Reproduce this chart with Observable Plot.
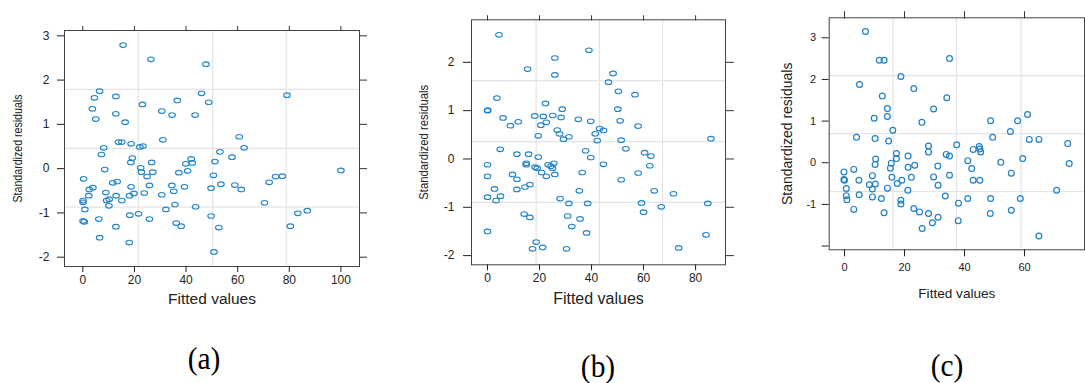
<!DOCTYPE html>
<html><head><meta charset="utf-8">
<script src="https://cdn.jsdelivr.net/npm/d3@7"></script>
<script src="https://cdn.jsdelivr.net/npm/@observablehq/plot@0.6"></script>
<style>
html,body{margin:0;padding:0;background:#fff}
body{width:1085px;height:383px;overflow:hidden;position:relative;font-family:"Liberation Sans",Arial,sans-serif}
.panel{position:absolute;top:0}
.cap{position:absolute;font-family:"Liberation Serif","Times New Roman",serif;font-size:31px;color:#000;transform:translate(-50%,-50%) scaleX(0.95);line-height:1;white-space:nowrap}
</style></head><body>
<div id="pa" class="panel" style="left:0px"></div>
<div id="pb" class="panel" style="left:400px"></div>
<div id="pc" class="panel" style="left:760px"></div>
<div class="cap" id="capa" style="left:204px;top:358px"></div>
<div class="cap" id="capb" style="left:598px;top:366px"></div>
<div class="cap" id="capc" style="left:947px;top:365px"></div>
<script>
// ---------- data ----------
const xTitle = "Fitted values";
const yTitle = "Standardized residuals";
const captions = ["(a)", "(b)", "(c)"];

const aTicksX = [0, 20, 40, 60, 80, 100];
const aTicksY = [-2, -1, 0, 1, 2, 3];
const aGridX = [21.5, 50.3, 78.8];
const aGridY = [1.79, 0.46, -0.87];
const aPoints = [[15.6,2.79],[26.4,2.47],[47.7,2.36],[6.5,1.75],[46.0,1.70],[4.5,1.60],[12.8,1.63],[36.6,1.54],[48.8,1.50],[79.1,1.66],[3.7,1.35],[23.1,1.45],[30.6,1.30],[5.0,1.12],[12.8,1.24],[34.6,1.21],[43.5,1.21],[16.4,1.05],[31.0,0.65],[13.8,0.60],[15.1,0.60],[18.7,0.56],[60.6,0.72],[8.1,0.47],[22.1,0.49],[23.3,0.51],[62.5,0.47],[7.2,0.32],[53.1,0.38],[57.8,0.26],[19.2,0.24],[42.0,0.22],[18.6,0.14],[26.7,0.14],[39.9,0.11],[42.4,0.13],[51.2,0.16],[8.5,-0.02],[22.4,0.02],[0.3,-0.23],[22.7,-0.08],[27.1,-0.08],[37.2,-0.09],[40.6,-0.05],[24.9,-0.18],[50.6,-0.15],[74.7,-0.18],[77.3,-0.17],[100,-0.04],[11.6,-0.32],[13.3,-0.29],[25.8,-0.38],[34.5,-0.38],[39.4,-0.41],[53.5,-0.35],[58.9,-0.37],[72.2,-0.31],[2.5,-0.47],[3.9,-0.43],[18.7,-0.41],[61.4,-0.47],[49.7,-0.44],[8.9,-0.54],[23.8,-0.55],[35.2,-0.51],[2.3,-0.61],[12.9,-0.61],[18.1,-0.61],[19.8,-0.56],[30.6,-0.59],[0.1,-0.72],[0.1,-0.76],[9.2,-0.72],[10.2,-0.69],[15.1,-0.72],[10.1,-0.84],[35.7,-0.81],[43.7,-0.86],[70.4,-0.77],[0.8,-0.92],[32.2,-0.92],[83.3,-1.01],[87.0,-0.95],[18.2,-1.05],[21.6,-1.02],[49.7,-1.07],[0.1,-1.18],[0.6,-1.20],[6.2,-1.14],[25.8,-1.14],[36.2,-1.23],[38.1,-1.30],[12.8,-1.31],[52.7,-1.33],[80.4,-1.30],[6.5,-1.56],[18.0,-1.67],[50.8,-1.88]];

const bTicksX = [0, 20, 40, 60, 80];
const bTicksY = [-2, -1, 0, 1, 2];
const bGridX = [18.7, 43.0, 67.3];
const bGridY = [1.62, 0.36, -0.90];
const bPoints = [[4.4,2.57],[39.0,2.25],[25.9,2.09],[15.4,1.86],[25.9,1.74],[48.3,1.77],[46.5,1.59],[50.3,1.40],[56.7,1.33],[3.6,1.26],[22.3,1.15],[0,1.00],[0.1,1.01],[28.7,1.03],[50.1,1.03],[6.0,0.85],[18.2,0.89],[21.5,0.88],[25.1,0.90],[28.3,0.86],[34.9,0.82],[39.7,0.78],[51.0,0.79],[8.8,0.69],[11.8,0.77],[20.5,0.70],[22.6,0.76],[57.9,0.68],[26.8,0.60],[27.7,0.52],[43.1,0.63],[44.6,0.59],[41.4,0.52],[19.5,0.48],[31.3,0.46],[29.2,0.41],[42.2,0.38],[51.4,0.39],[85.9,0.42],[4.9,0.20],[37.7,0.17],[53.2,0.21],[11.3,0.10],[15.8,0.10],[19.5,0.04],[39.7,0.03],[60.4,0.13],[62.8,0.06],[0,-0.12],[14.9,-0.09],[14.9,-0.12],[23.3,-0.12],[25.5,-0.09],[24.4,-0.15],[25.0,-0.19],[18.3,-0.17],[19.1,-0.19],[44.6,-0.11],[62.4,-0.14],[0,-0.36],[9.6,-0.32],[11.3,-0.42],[20.8,-0.28],[22.6,-0.36],[25.9,-0.32],[36.4,-0.28],[57.9,-0.29],[51.4,-0.43],[2.7,-0.62],[11.3,-0.63],[14.4,-0.58],[16.3,-0.53],[0,-0.79],[3.3,-0.86],[5.0,-0.77],[27.9,-0.82],[31.3,-0.92],[38.5,-0.92],[35.3,-0.66],[64.1,-0.66],[71.5,-0.72],[59.2,-0.91],[60.0,-1.10],[66.8,-0.99],[84.7,-0.92],[14.1,-1.14],[16.3,-1.21],[30.8,-1.18],[35.6,-1.24],[32.4,-1.40],[38.1,-1.53],[0,-1.50],[84.0,-1.57],[18.7,-1.72],[17.3,-1.86],[21.2,-1.83],[30.4,-1.86],[73.5,-1.84]];

const cTicksX = [0, 20, 40, 60];
const cTicksY = [-2, -1, 0, 1, 2, 3];
const cGridX = [16.2, 37.3, 58.9];
const cGridY = [2.09, 0.70, -0.69];
const cPoints = [[7.0,3.15],[11.6,2.46],[13.2,2.46],[35.0,2.50],[18.8,2.07],[5.0,1.88],[23.1,1.78],[12.6,1.60],[34.1,1.56],[14.3,1.30],[29.7,1.29],[9.9,1.07],[14.3,1.11],[25.8,0.97],[48.7,1.01],[57.7,1.01],[61.0,1.16],[16.1,0.78],[55.3,0.75],[4.0,0.61],[10.2,0.58],[49.4,0.61],[61.6,0.56],[64.8,0.56],[14.7,0.52],[74.4,0.46],[37.4,0.43],[28.0,0.40],[28.0,0.26],[42.9,0.32],[44.9,0.39],[45.1,0.33],[45.4,0.26],[17.3,0.22],[10.4,0.09],[17.3,0.10],[21.2,0.16],[33.9,0.20],[35.0,0.16],[59.4,0.10],[41.1,0.05],[52.1,0.01],[74.9,-0.02],[-0.2,-0.22],[-0.2,-0.40],[0,-0.42],[3.1,-0.16],[10.2,-0.04],[15.6,-0.01],[15.3,-0.13],[21.2,-0.11],[23.4,-0.06],[31.1,-0.08],[42.4,-0.14],[55.6,-0.25],[9.3,-0.31],[15.8,-0.35],[22.3,-0.35],[29.7,-0.34],[35.0,-0.30],[4.8,-0.42],[19.1,-0.42],[42.9,-0.42],[45.1,-0.42],[8.3,-0.53],[10.3,-0.51],[17.6,-0.50],[31.2,-0.54],[0.6,-0.62],[9.3,-0.63],[14.3,-0.61],[21.1,-0.66],[70.7,-0.66],[0.6,-0.79],[0.8,-0.89],[4.9,-0.77],[9.3,-0.82],[12.3,-0.86],[33.6,-0.80],[41.1,-0.86],[48.7,-0.86],[58.6,-0.86],[18.8,-0.90],[18.8,-0.99],[38.0,-0.97],[3.1,-1.12],[13.2,-1.20],[23.1,-1.10],[25.0,-1.18],[28.0,-1.22],[48.6,-1.22],[55.6,-1.14],[31.2,-1.31],[29.3,-1.44],[37.9,-1.39],[25.9,-1.58],[64.8,-1.76]];

// ---------- drawing ----------
function makeEllipse(rx, ry) {
  const k = 0.5523;
  return {
    draw(ctx) {
      ctx.moveTo(rx, 0);
      ctx.bezierCurveTo(rx, ry * k, rx * k, ry, 0, ry);
      ctx.bezierCurveTo(-rx * k, ry, -rx, ry * k, -rx, 0);
      ctx.bezierCurveTo(-rx, -ry * k, -rx * k, -ry, 0, -ry);
      ctx.bezierCurveTo(rx * k, -ry, rx, -ry * k, rx, 0);
      ctx.closePath();
    }
  };
}

function panel(el, cfg) {
  const fmt = cfg.yFmt || (d => String(d));
  const svg = Plot.plot({
    width: cfg.width, height: cfg.height,
    marginLeft: cfg.ml, marginRight: cfg.mr, marginTop: cfg.mt, marginBottom: cfg.mb,
    x: {domain: cfg.xDomain, axis: null},
    y: {domain: cfg.yDomain, axis: null},
    style: {background: "transparent", fontFamily: "Liberation Sans, Arial, sans-serif", fontSize: cfg.tickFont + "px", color: "#222", overflow: "visible"},
    marks: [
      Plot.ruleX(cfg.gridX, {stroke: "#e4e4e4", strokeWidth: 1.2}),
      Plot.ruleY(cfg.gridY, {stroke: "#e4e4e4", strokeWidth: 1.2}),
      Plot.dot(cfg.points, {x: d => d[0], y: d => d[1], r: cfg.r, symbol: cfg.symbol, stroke: cfg.stroke, strokeWidth: cfg.sw, fill: "none"}),
      Plot.frame({stroke: "#444", strokeWidth: 1}),
      Plot.axisX({ticks: cfg.ticksX, anchor: "bottom", tickSize: cfg.tb, tickPadding: cfg.pb, tickFormat: d => String(d), label: null, color: "#222"}),
      Plot.axisX({ticks: cfg.ticksX, anchor: "top", tickSize: cfg.tt, tickFormat: () => "", label: null, color: "#333"}),
      Plot.axisY({ticks: cfg.ticksY, anchor: "left", tickSize: cfg.tl, tickPadding: cfg.pl, tickFormat: fmt, label: null, color: "#222"}),
      Plot.axisY({ticks: cfg.ticksY, anchor: "right", tickSize: cfg.tl, tickFormat: () => "", label: null, color: "#333"}),
      Plot.text([xTitle], {text: d => d, frameAnchor: "bottom", lineAnchor: "middle", textAnchor: "middle", dy: cfg.xdy, fontSize: cfg.titleFont, fill: "#222"}),
      Plot.text([yTitle], {text: d => d, frameAnchor: "left", lineAnchor: "middle", textAnchor: "middle", rotate: -90, dx: cfg.ydx, fontSize: cfg.yFont, fill: "#222"})
    ]
  });
  svg.querySelectorAll("text").forEach(t => {
    if (t.textContent === yTitle && cfg.yLen) {
      t.setAttribute("textLength", cfg.yLen);
      t.setAttribute("lengthAdjust", "spacingAndGlyphs");
    }
  });
  el.appendChild(svg);
}

panel(document.getElementById("pa"), {
  points: aPoints, gridX: aGridX, gridY: aGridY, ticksX: aTicksX, ticksY: aTicksY,
  xDomain: [-7.1, 107.2], yDomain: [-2.21, 3.12],
  width: 372, height: 315, ml: 64, mr: 13, mt: 30, mb: 49,
  symbol: makeEllipse(3.3, 2.3), r: 3, stroke: "#2384cc", sw: 1.1,
  tickFont: 12, titleFont: 15.5, yFont: 13, yLen: 108,
  tb: 6, pb: 3, tt: 5, tl: 7, pl: 8, xdy: 33, ydx: -47
});
panel(document.getElementById("pb"), {
  points: bPoints, gridX: bGridX, gridY: bGridY, ticksX: bTicksX, ticksY: bTicksY,
  xDomain: [-6.15, 91.5], yDomain: [-2.19, 2.88],
  width: 340, height: 315, ml: 71, mr: 15, mt: 19.3, mb: 50.7,
  symbol: makeEllipse(3.3, 2.3), r: 3, stroke: "#2384cc", sw: 1.1,
  tickFont: 12, titleFont: 16, yFont: 13, yLen: 115,
  tb: 6, pb: 3, tt: 5, tl: 8, pl: 9, xdy: 34, ydx: -48
});
panel(document.getElementById("pc"), {
  points: cPoints, gridX: cGridX, gridY: cGridY, ticksX: cTicksX, ticksY: cTicksY,
  xDomain: [-5.1, 80], yDomain: [-2.09, 3.48],
  width: 325, height: 315, ml: 68.7, mr: 1, mt: 17.3, mb: 65.7,
  symbol: "circle", r: 2.9, stroke: "#1f7fc8", sw: 1.2,
  tickFont: 11, titleFont: 13.6, yFont: 14, yLen: null,
  yFmt: d => (d === -2 ? "" : String(d)),
  tb: 7, pb: 6, tt: 7, tl: 7, pl: 6, xdy: 44, ydx: -42
});
document.getElementById("capa").textContent = captions[0];
document.getElementById("capb").textContent = captions[1];
document.getElementById("capc").textContent = captions[2];
</script>
</body></html>
